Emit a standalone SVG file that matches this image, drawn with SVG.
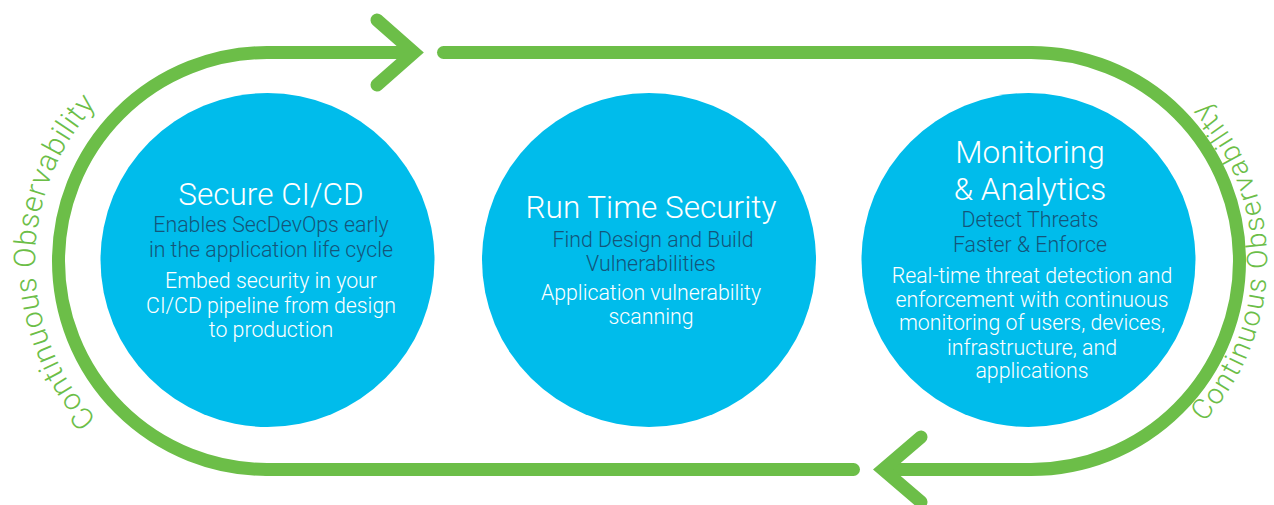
<svg xmlns="http://www.w3.org/2000/svg" width="1274" height="505" viewBox="0 0 1274 505">
  <style>
    .loop { fill: none; stroke: #6cbe48; stroke-width: 13; stroke-linecap: butt; }
    .cap { stroke-linecap: round; }
    .head { fill: none; stroke: #6cbe48; stroke-width: 13; stroke-linecap: round; stroke-linejoin: miter; stroke-miterlimit: 10; }
    .disc { fill: #00bceb; }
    text { font-family: Roboto, "Liberation Sans", sans-serif; font-weight: 300; text-anchor: middle; }
    .title { fill: #ffffff; font-size: 31.5px; }
    .sub { fill: #14557a; font-size: 21.3px; }
    .body { fill: #ffffff; font-size: 21.3px; }
    .orbit { fill: #6cbe48; font-size: 30px; letter-spacing: 0.8px; }
    .orbit-r { font-size: 28.5px; letter-spacing: 1.8px; }
  </style>
  <defs>
    <path id="orbit-left" d="M 267,493.5 A 232 232 0 0 1 267,29.5"/>
    <path id="orbit-right" d="M 1031,497.5 A 236 236 0 0 0 1031,25.5"/>
  </defs>

  <!-- loop with two direction arrows -->
  <g id="connectors">
    <path class="loop cap" d="M 443.5,52.5 H 1031"/>
    <path class="loop" d="M 1031,52.5 A 208.5 208.5 0 0 1 1031,469.5 H 882"/>
    <polyline class="head" points="921,437 883,469.5 921,502"/>
    <path class="loop cap" d="M 853.5,469.5 H 267"/>
    <path class="loop" d="M 267,469.5 A 208.5 208.5 0 0 1 267,52.5 H 415"/>
    <polyline class="head" points="377,20 414,52.5 377,85"/>
  </g>

  <g id="label-left">
    <text class="orbit"><textPath href="#orbit-left" startOffset="50%">Continuous Observability</textPath></text>
  </g>
  <g id="label-right">
    <text class="orbit orbit-r"><textPath href="#orbit-right" startOffset="50%">Continuous Observability</textPath></text>
  </g>

  <g id="secure-cicd">
    <circle class="disc" cx="267.5" cy="260" r="167"/>
    <text class="title" x="271" y="205">Secure CI/CD</text>
    <text class="sub" x="271" y="232">Enables SecDevOps early</text>
    <text class="sub" x="271" y="257">in the application life cycle</text>
    <text class="body" x="271" y="288">Embed security in your</text>
    <text class="body" x="271" y="313">CI/CD pipeline from design</text>
    <text class="body" x="271" y="337">to production</text>
  </g>

  <g id="run-time-security">
    <circle class="disc" cx="649" cy="260" r="167"/>
    <text class="title" x="651" y="218">Run Time Security</text>
    <text class="sub" x="653" y="247">Find Design and Build</text>
    <text class="sub" x="651" y="271">Vulnerabilities</text>
    <text class="body" x="651" y="300">Application vulnerability</text>
    <text class="body" x="651" y="324">scanning</text>
  </g>

  <g id="monitoring-analytics">
    <circle class="disc" cx="1028.5" cy="260" r="167"/>
    <text class="title" x="1030" y="163">Monitoring</text>
    <text class="title" x="1030" y="200">&amp; Analytics</text>
    <text class="sub" x="1030" y="227">Detect Threats</text>
    <text class="sub" x="1030" y="252">Faster &amp; Enforce</text>
    <text class="body" x="1032" y="283">Real-time threat detection and</text>
    <text class="body" x="1032" y="307">enforcement with continuous</text>
    <text class="body" x="1032" y="330">monitoring of users, devices,</text>
    <text class="body" x="1032" y="355">infrastructure, and</text>
    <text class="body" x="1032" y="378">applications</text>
  </g>
</svg>
